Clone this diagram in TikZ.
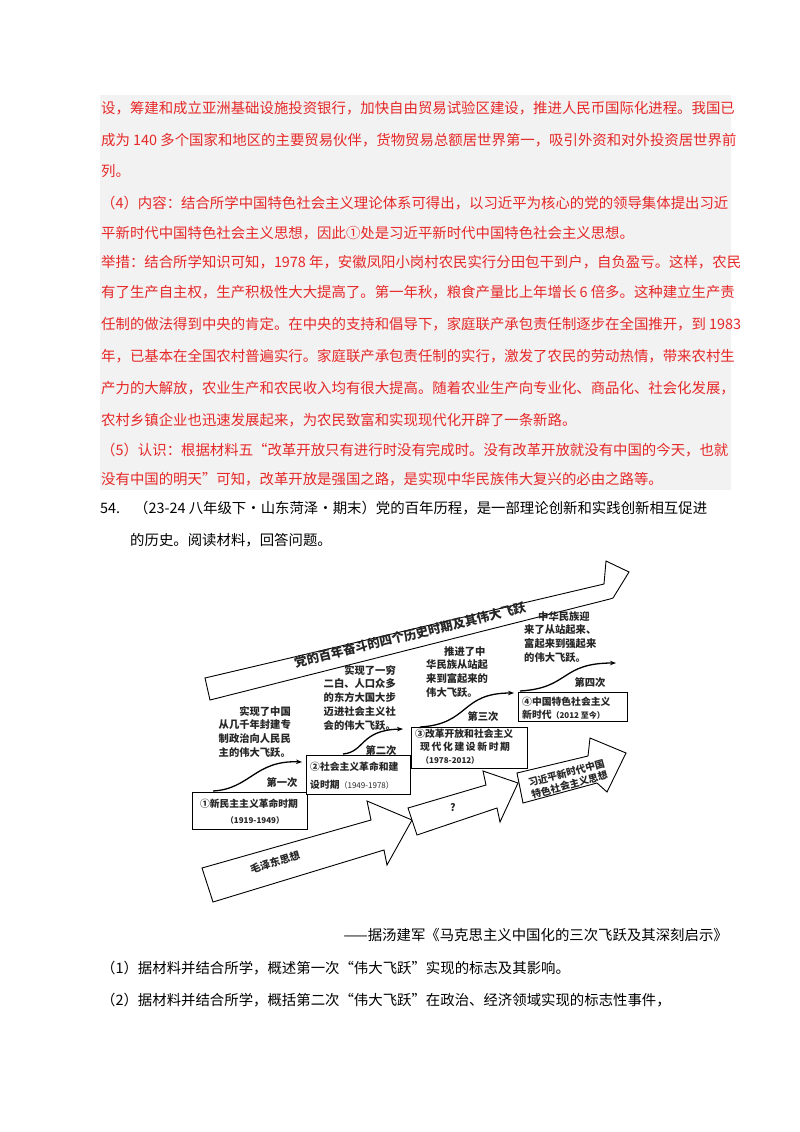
\documentclass[tikz,border=0pt]{standalone}
\usepackage{fontspec}
\setmainfont{Noto Sans CJK SC}
\usetikzlibrary{arrows.meta}
\definecolor{ans}{RGB}{230,40,40}
\definecolor{bg}{RGB}{242,242,242}
\begin{document}
\begin{tikzpicture}[x=1pt,y=-1pt,
  ln/.style={anchor=west,inner sep=0pt,font=\fontsize{14.4}{16}\selectfont},
  red/.style={ln,text=ans},
  dg/.style={inner sep=0pt,font=\bfseries\fontsize{10.3}{13.8}\selectfont,text=black!85},
  bx/.style={draw,line width=0.8pt,fill=white},
  flow/.style={draw,line width=0.9pt,fill=white,line join=miter},
  jump/.style={line width=1.3pt,-{Stealth[length=6pt]}}]
\useasboundingbox[fill=white] (0,0) rectangle (800,1132);
\fill[bg] (100,95) rectangle (731,490);
\node[red] (l1) at (101,108) {设，筹建和成立亚洲基础设施投资银行，加快自由贸易试验区建设，推进人民币国际化进程。我国已};
\node[red] (l2) at (101,140) {成为 140 多个国家和地区的主要贸易伙伴，货物贸易总额居世界第一，吸引外资和对外投资居世界前};
\node[red] (l3) at (101,171) {列。};
\node[red] (l4) at (101,203) {（4）内容：结合所学中国特色社会主义理论体系可得出，以习近平为核心的党的领导集体提出习近};
\node[red] (l5) at (101,233) {平新时代中国特色社会主义思想，因此①处是习近平新时代中国特色社会主义思想。};
\node[red] (l6) at (101,262) {举措：结合所学知识可知，1978 年，安徽凤阳小岗村农民实行分田包干到户，自负盈亏。这样，农民};
\node[red] (l7) at (101,292) {有了生产自主权，生产积极性大大提高了。第一年秋，粮食产量比上年增长 6 倍多。这种建立生产责};
\node[red] (l8) at (101,324) {任制的做法得到中央的肯定。在中央的支持和倡导下，家庭联产承包责任制逐步在全国推开，到 1983};
\node[red] (l9) at (101,356) {年，已基本在全国农村普遍实行。家庭联产承包责任制的实行，激发了农民的劳动热情，带来农村生};
\node[red] (l10) at (101,388) {产力的大解放，农业生产和农民收入均有很大提高。随着农业生产向专业化、商品化、社会化发展，};
\node[red] (l11) at (101,420) {农村乡镇企业也迅速发展起来，为农民致富和实现现代化开辟了一条新路。};
\node[red] (l12) at (101,450) {（5）认识：根据材料五“改革开放只有进行时没有完成时。没有改革开放就没有中国的今天，也就};
\node[red] (l13) at (101,479) {没有中国的明天”可知，改革开放是强国之路，是实现中华民族伟大复兴的必由之路等。};
\node[ln] (q1) at (100,508) {54.\hspace{14pt}（23-24 八年级下·山东菏泽·期末）党的百年历程，是一部理论创新和实践创新相互促进};
\node[ln] (q2) at (130,540) {的历史。阅读材料，回答问题。};
% big arrow
\draw[flow] (205,678) -- (604,584) -- (606,561) -- (629,572) -- (613,598) -- (610,599) -- (210,700) -- cycle;
\node[dg,rotate=13.5,font=\bfseries\fontsize{12.5}{14}\selectfont] (title) at (410,635) {党的百年奋斗的四个历史时期及其伟大飞跃};
% lower arrows
\draw[flow] (202,868) -- (371,820) -- (367,801) -- (412,820) -- (387,865) -- (384,850) -- (213,902) -- cycle;
\node[dg,rotate=17] (mao) at (275,862) {毛泽东思想};
\draw[flow] (408,808) -- (486,785) -- (483,771) -- (518,783) -- (500,822) -- (497,808) -- (417,835) -- cycle;
\node[dg] (q) at (453,808) {?};
\draw[flow] (517,773) -- (588,756) -- (590,738) -- (626,753) -- (607,792) -- (597,783) -- (523,803) -- cycle;
\node[dg,rotate=15,align=center,font=\bfseries\fontsize{9.8}{12}\selectfont] (xi) at (568,779) {习近平新时代中国\\特色社会主义思想};
% boxes
\draw[bx] (192,792) rectangle (307,829);
\node[dg,font=\bfseries\fontsize{9.8}{12}\selectfont] (b1) at (249,804) {①新民主主义革命时期};
\node[dg,font=\bfseries\fontsize{8}{10}\selectfont] (b1y) at (255,820) {（1919-1949）};
\draw[bx] (306,755) rectangle (410,794);
\node[dg,anchor=west,font=\bfseries\fontsize{9.8}{12}\selectfont] (b2) at (310,767) {②社会主义革命和建};
\node[dg,anchor=west,font=\bfseries\fontsize{9.8}{12}\selectfont] (b2b) at (310,785) {设时期\mdseries\fontsize{8}{10}\selectfont（1949-1978）};
\draw[bx] (411,727) rectangle (527,768);
\node[dg,anchor=west,font=\bfseries\fontsize{9.8}{12}\selectfont] (b3) at (415,734) {③改革开放和社会主义};
\node[dg,anchor=west,font=\bfseries\fontsize{9.8}{12}\selectfont] (b3b) at (420,747) {现\,代\,化\,建\,设\,新\,时\,期};
\node[dg,anchor=west,font=\bfseries\fontsize{8}{10}\selectfont] (b3c) at (421,760) {（1978-2012）};
\draw[bx] (518,692) rectangle (627,721);
\node[dg,anchor=west,font=\bfseries\fontsize{9.8}{12}\selectfont] (b4) at (522,702) {④中国特色社会主义};
\node[dg,anchor=west,font=\bfseries\fontsize{9.8}{12}\selectfont] (b4b) at (522,715) {新时代\fontsize{8}{10}\selectfont（2012 至今）};
% jump curves
\coordinate (c1s) at (213,791); \coordinate (c1e) at (302,762);
\draw[jump] (c1s) .. controls (250,789) and (255,760) .. (c1e);
\node[dg] (j1) at (282,783) {第一次};
\coordinate (c2s) at (343,754); \coordinate (c2e) at (403,729);
\draw[jump] (c2s) .. controls (365,752) and (360,730) .. (c2e);
\node[dg] (j2) at (381,751) {第二次};
\coordinate (c3s) at (420,727); \coordinate (c3e) at (514,693);
\draw[jump] (c3s) .. controls (470,724) and (460,693) .. (c3e);
\node[dg] (j3) at (483,717) {第三次};
\coordinate (c4s) at (520,691); \coordinate (c4e) at (616,663);
\draw[jump] (c4s) .. controls (570,688) and (560,663) .. (c4e);
\node[dg] (j4) at (590,683) {第四次};
% annotations
\node[dg,align=right,anchor=north east] (t1) at (291,706) {实现了中国\\从几千年封建专\\制政治向人民民\\主的伟大飞跃。};
\node[dg,align=right,anchor=north east] (t2) at (396,665) {实现了一穷\\二白、人口众多\\的东方大国大步\\迈进社会主义社\\会的伟大飞跃。};
\node[dg,align=left,anchor=north west] (t3) at (426,646) {\hspace*{18pt}推进了中\\华民族从站起\\来到富起来的\\伟大飞跃。};
\node[dg,align=left,anchor=north west] (t4) at (524,611) {\hspace*{14pt}中华民族迎\\来了从站起来、\\富起来到强起来\\的伟大飞跃。};
% questions
\node[ln,anchor=east] (cap) at (728,935) {——据汤建军《马克思主义中国化的三次飞跃及其深刻启示》};
\node[ln] (q3) at (101,968) {（1）据材料并结合所学，概述第一次“伟大飞跃”实现的标志及其影响。};
\node[ln] (q4) at (101,1000) {（2）据材料并结合所学，概括第二次“伟大飞跃”在政治、经济领域实现的标志性事件，};
\end{tikzpicture}
\end{document}
